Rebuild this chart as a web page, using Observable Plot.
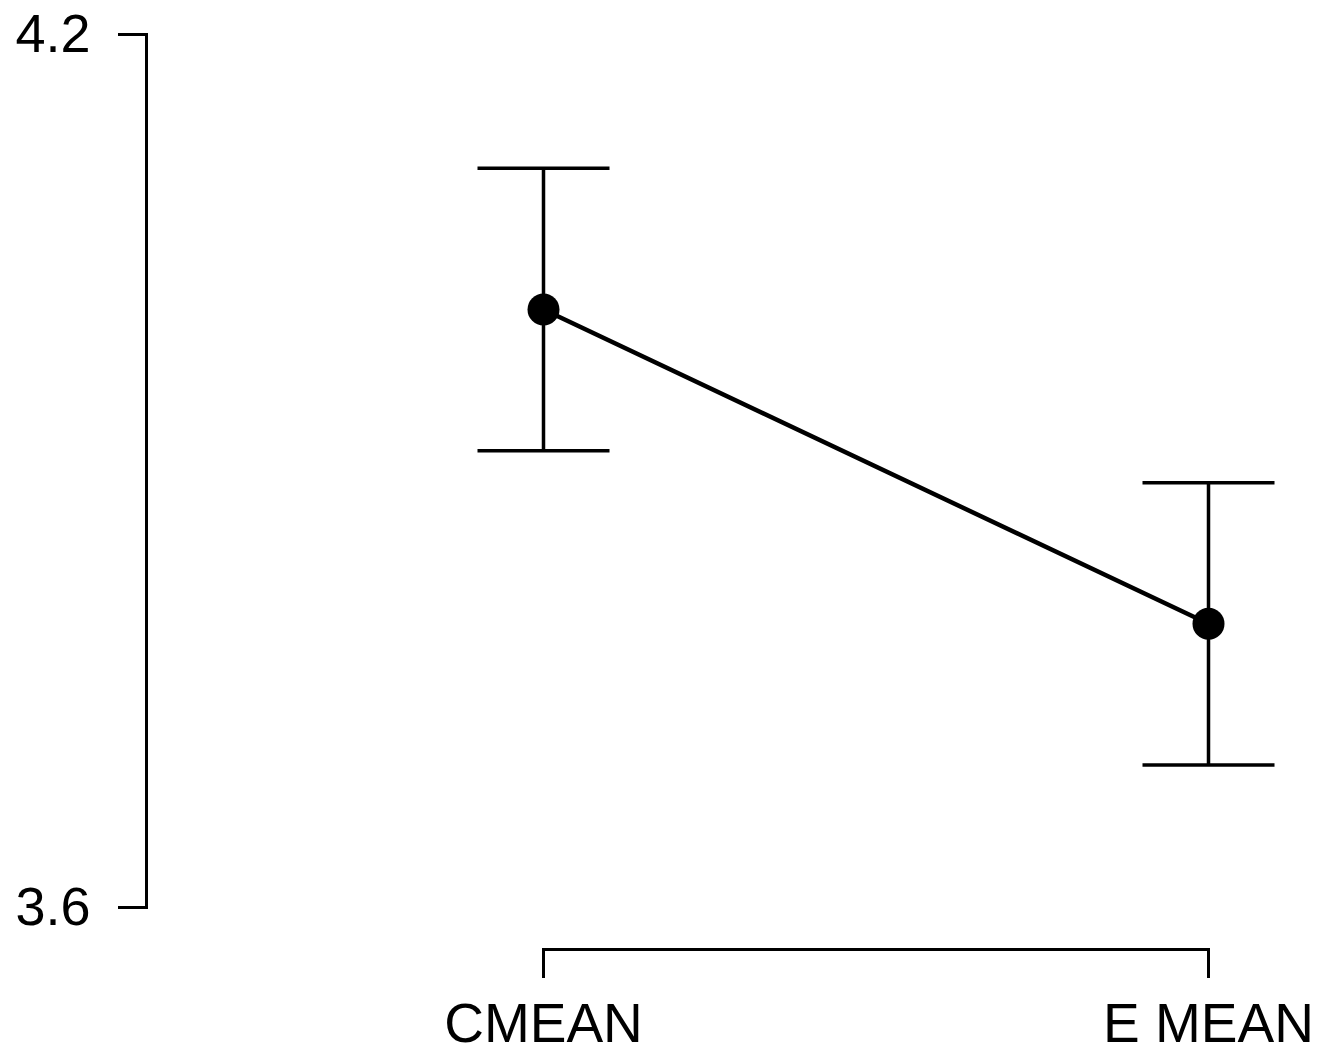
<!DOCTYPE html>
<html>
<head>
<meta charset="utf-8">
<script src="https://cdn.jsdelivr.net/npm/d3@7"></script>
<script src="https://cdn.jsdelivr.net/npm/@observablehq/plot@0.6"></script>
<style>
  html, body { margin: 0; padding: 0; background: #fff; }
  #chart { width: 1326px; height: 1062px; }
</style>
</head>
<body>
<div id="chart"></div>
<script>
const categories = ["CMEAN", "E MEAN"];
const means = [4.011, 3.795];
const lower = [3.914, 3.698];
const upper = [4.108, 3.892];
const yTicks = [3.6, 4.2];

const data = categories.map((c, i) => ({cat: c, mean: means[i], lo: lower[i], hi: upper[i]}));

const capHalf = 66;
const capSymbol = {
  draw(context) {
    context.moveTo(-capHalf, 0);
    context.lineTo(capHalf, 0);
  }
};

const chart = Plot.plot({
  width: 1326,
  height: 1062,
  marginTop: 34,
  marginLeft: 146,
  marginRight: 118,
  marginBottom: 113,
  style: {fontFamily: "'Liberation Sans', Arial, sans-serif", color: "black", background: "white"},
  x: {type: "point", domain: categories, range: [543, 1208], padding: 0},
  y: {domain: [yTicks[0], yTicks[yTicks.length - 1]], range: [907, 34]},
  marks: [
    Plot.frame({anchor: "left", insetBottom: 42, strokeWidth: 3, stroke: "black"}),
    Plot.frame({anchor: "bottom", insetLeft: 397, strokeWidth: 3, stroke: "black"}),
    Plot.axisY({ticks: yTicks, tickSize: 28, tickPadding: 28, tickFormat: d => d.toFixed(1), strokeWidth: 3, fontSize: 54, label: null}),
    Plot.axisX({tickSize: 29, tickPadding: 24, strokeWidth: 3, fontSize: 55, label: null}),
    Plot.ruleX(data, {x: "cat", y1: "lo", y2: "hi", strokeWidth: 3.5, stroke: "black"}),
    Plot.dot(data, {x: "cat", y: "hi", symbol: capSymbol, stroke: "black", strokeWidth: 3.5, fill: "none"}),
    Plot.dot(data, {x: "cat", y: "lo", symbol: capSymbol, stroke: "black", strokeWidth: 3.5, fill: "none"}),
    Plot.line(data, {x: "cat", y: "mean", strokeWidth: 4.5, stroke: "black"}),
    Plot.dot(data, {x: "cat", y: "mean", r: 16, fill: "black", stroke: "none"})
  ]
});
document.getElementById("chart").appendChild(chart);
</script>
</body>
</html>
